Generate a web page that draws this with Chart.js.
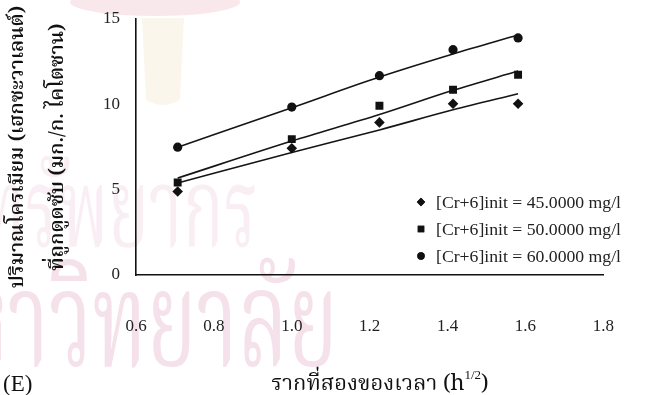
<!DOCTYPE html>
<html>
<head>
<meta charset="utf-8">
<script src="https://cdn.jsdelivr.net/npm/chart.js@4.4.1/dist/chart.umd.min.js"></script>
<style>
  html, body { margin: 0; padding: 0; background: #ffffff; }
  #wrap { width: 647px; height: 395px; position: relative; }
</style>
</head>
<body>
<div id="wrap"><canvas id="c" width="647" height="395"></canvas></div>
<script>
// Square root of contact time (h^1/2)
const sqrtTime = [0.707, 1.0, 1.225, 1.414, 1.581];

// Adsorbed Cr(VI), mg per g chitosan
const cr45 = [4.89, 7.43, 8.94, 10.03, 10.03];
const cr50 = [5.42, 7.96, 9.92, 10.85, 11.73];
const cr60 = [7.49, 9.84, 11.68, 13.20, 13.89];

// Fitted curves at the same times
const fit45 = [5.39, 7.18, 8.50, 9.68, 10.62];
const fit50 = [5.68, 7.85, 9.40, 10.82, 11.95];
const fit60 = [7.49, 9.80, 11.60, 12.95, 14.06];

const seriesNames = [
  '[Cr+6]init = 45.0000 mg/l',
  '[Cr+6]init = 50.0000 mg/l',
  '[Cr+6]init = 60.0000 mg/l'
];
const xTickValues = [0.6, 0.8, 1.0, 1.2, 1.4, 1.6, 1.8];
const yTickValues = [0, 5, 10, 15];

const yTitle = ['ปริมาณโครเมียม (เฮกซะวาเลนต์)', 'ที่ถูกดูดซับ (มก./ก. ไคโตซาน)'];
const xTitle = 'รากที่สองของเวลา (h';
const xTitleSup = '1/2';
const panelTag = '(E)';

const THAI = '"Noto Serif Thai", "Noto Sans Thai Looped", Norasi, Kinnari, Laksaman, Garuda, Loma, "Noto Sans Thai", "Liberation Serif", serif';
const SERIF = '"Liberation Serif", "DejaVu Serif", serif';

const toPts = (ys) => sqrtTime.map((x, i) => ({ x: x, y: ys[i] }));

const markerStyles = [
  { style: 'rectRot', r: 5.3 },
  { style: 'rect', r: 5.6 },
  { style: 'circle', r: 4.6 }
];

function scatterSet(name, ys, m) {
  return {
    label: name, data: toPts(ys), showLine: false,
    pointStyle: m.style, pointRadius: m.r, pointHoverRadius: m.r,
    backgroundColor: '#111', borderColor: '#111', borderWidth: 0
  };
}
function fitSet(ys) {
  return {
    label: 'fit', data: toPts(ys), showLine: true, pointRadius: 0,
    borderColor: '#151515', borderWidth: 1.6, tension: 0.25,
    cubicInterpolationMode: 'monotone', fill: false
  };
}

// Pale background stamp, seal and lettering
const backdrop = {
  id: 'backdrop',
  beforeDraw(chart) {
    const ctx = chart.ctx;
    ctx.save();
    ctx.fillStyle = '#ffffff';
    ctx.fillRect(0, 0, chart.width, chart.height);
    // seal top
    ctx.fillStyle = 'rgba(214,110,128,0.16)';
    ctx.beginPath();
    ctx.ellipse(155, 2, 85, 14, 0, 0, Math.PI * 2);
    ctx.fill();
    ctx.fillStyle = 'rgba(236,214,170,0.22)';
    ctx.beginPath();
    ctx.moveTo(142, 18); ctx.lineTo(184, 18); ctx.lineTo(180, 100);
    ctx.quadraticCurveTo(163, 110, 146, 100); ctx.closePath();
    ctx.fill();
    // lettering
    ctx.textBaseline = 'alphabetic';
    ctx.textAlign = 'right';
    ctx.fillStyle = '#f9eef3';
    ctx.save();
    ctx.translate(258, 246);
    ctx.scale(0.62, 1);
    ctx.font = '110px ' + THAI;
    ctx.fillText('ศูนย์วิทยทรัพยากร', 0, 0);
    ctx.restore();
    ctx.fillStyle = '#f5e1ea';
    ctx.save();
    ctx.translate(338, 366);
    ctx.scale(0.62, 1);
    ctx.font = '135px ' + THAI;
    ctx.fillText('จุฬาลงกรณ์มหาวิทยาลัย', 0, 0);
    ctx.restore();
    ctx.restore();
  }
};

// Legend box, x-axis caption and panel tag
const annotations = {
  id: 'annotations',
  afterDraw(chart) {
    const ctx = chart.ctx;
    ctx.save();
    // legend
    const rows = [202, 229, 256];
    const legendMarks = [
      { style: 'rectRot', r: 4.2 },
      { style: 'rect', r: 4.6 },
      { style: 'circle', r: 3.7 }
    ];
    ctx.font = '17.7px ' + SERIF;
    ctx.textBaseline = 'middle';
    ctx.textAlign = 'left';
    seriesNames.forEach((name, i) => {
      ctx.fillStyle = '#111';
      ctx.strokeStyle = '#111';
      Chart.helpers.drawPoint(ctx, { pointStyle: legendMarks[i].style, radius: legendMarks[i].r, borderWidth: 0 }, 421, rows[i]);
      ctx.fill();
      ctx.fillStyle = '#222';
      ctx.fillText(name, 436, rows[i] + 1);
    });
    // x caption with superscript
    ctx.fillStyle = '#111';
    ctx.textBaseline = 'alphabetic';
    ctx.font = '22px ' + THAI;
    const w1 = ctx.measureText(xTitle).width;
    ctx.font = '13px ' + SERIF;
    const w2 = ctx.measureText(xTitleSup).width;
    ctx.font = '22px ' + THAI;
    const w3 = ctx.measureText(')').width;
    const startX = 380 - (w1 + w2 + w3) / 2;
    const base = 390;
    ctx.fillText(xTitle, startX, base);
    ctx.font = '13px ' + SERIF;
    ctx.fillText(xTitleSup, startX + w1, base - 11);
    ctx.font = '22px ' + THAI;
    ctx.fillText(')', startX + w1 + w2, base);
    // panel tag
    ctx.font = '23px ' + SERIF;
    ctx.textAlign = 'left';
    ctx.fillText(panelTag, 3, 391);
    ctx.restore();
  }
};

new Chart(document.getElementById('c'), {
  type: 'scatter',
  data: {
    datasets: [
      scatterSet(seriesNames[0], cr45, markerStyles[0]),
      scatterSet(seriesNames[1], cr50, markerStyles[1]),
      scatterSet(seriesNames[2], cr60, markerStyles[2]),
      fitSet(fit45), fitSet(fit50), fitSet(fit60)
    ]
  },
  options: {
    responsive: false,
    animation: false,
    devicePixelRatio: 1,
    layout: { padding: { left: 0, right: 29, top: 19, bottom: 0 } },
    plugins: { legend: { display: false }, tooltip: { enabled: false } },
    scales: {
      x: {
        type: 'linear', min: 0.6, max: 1.8,
        afterBuildTicks: (s) => { s.ticks = xTickValues.map(v => ({ value: v })); },
        afterFit: (s) => { s.height = 120; },
        grid: { display: false, drawOnChartArea: false, drawTicks: true, tickLength: 8, tickColor: '#111', tickWidth: 1.4 },
        border: { display: true, color: '#111', width: 1.6 },
        ticks: { color: '#222', font: { family: SERIF, size: 17 }, padding: 33,
          callback: (v) => Number(v).toFixed(1) }
      },
      y: {
        type: 'linear', min: 0, max: 15,
        afterBuildTicks: (s) => { s.ticks = yTickValues.map(v => ({ value: v })); },
        afterFit: (s) => { s.width = 136; },
        grid: { display: false, drawOnChartArea: false, drawTicks: true, tickLength: 8, tickColor: '#111', tickWidth: 1.4 },
        border: { display: true, color: '#111', width: 1.6 },
        ticks: { color: '#222', font: { family: SERIF, size: 17 }, padding: 8 },
        title: {
          display: true, text: yTitle, color: '#111',
          font: { family: THAI, size: 20, weight: '600', lineHeight: 2.0 },
          padding: { top: 0, bottom: 0 }
        }
      }
    }
  },
  plugins: [backdrop, annotations]
});
</script>
</body>
</html>
